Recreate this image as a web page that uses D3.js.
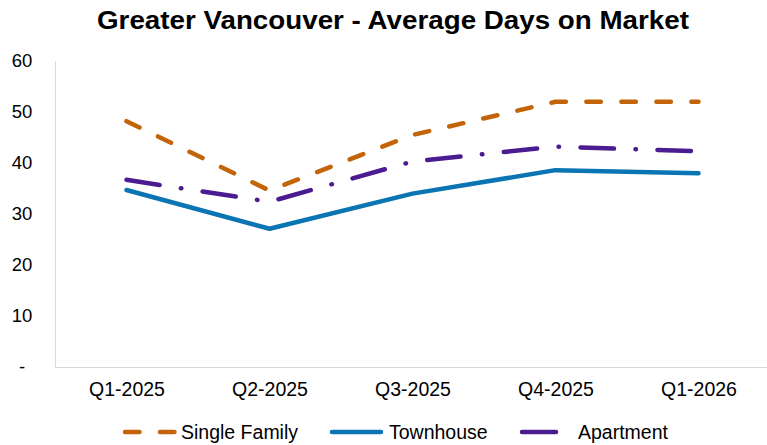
<!DOCTYPE html>
<head>
<meta charset="utf-8">
<script src="https://d3js.org/d3.v7.min.js"></script>
<style>
    body { margin: 0; background: #fff; }
    text { font-family: "Liberation Sans", Arial, sans-serif; fill: #000; }
    .title { font-size: 26px; font-weight: bold; }
    .yAxis .tick text { font-size: 18.5px; }
    .xAxis .tick text { font-size: 19.5px; }
    .legend text { font-size: 19.5px; }
</style>
</head>
<body>
<svg width="767" height="445"></svg>
<script>
    // data
    var quarters = ["Q1-2025", "Q2-2025", "Q3-2025", "Q4-2025", "Q1-2026"];
    var singleFamily = [48.2, 34.6, 45.5, 52, 52];
    var townhouse = [34.7, 27.1, 34, 38.6, 38];
    var apartment = [36.7, 32.4, 40.3, 43.2, 42.3];
    var yTicks = [0, 10, 20, 30, 40, 50, 60];

    var series = [
        {name: "Single Family", values: singleFamily, color: "#C26407", dash: "14.5,20.5"},
        {name: "Townhouse", values: townhouse, color: "#0A75B2", dash: null},
        {name: "Apartment", values: apartment, color: "#4B1C91", dash: "33.5,21.5,0.5,21.5"}
    ];

    var svg = d3.select("svg");
    var margin = {left: 55, right: -3, top: 61, bottom: 78};
    var width = 767 - margin.left - margin.right,
        height = 445 - margin.top - margin.bottom;

    var x = d3.scalePoint().domain(quarters).range([0, width]).padding(0.5);
    var y = d3.scaleLinear().domain([0, 60]).range([height, 0]);

    svg.append("text")
        .attr("class", "title")
        .attr("x", 393).attr("y", 29)
        .attr("text-anchor", "middle")
        .attr("textLength", 592)
        .attr("lengthAdjust", "spacingAndGlyphs")
        .text("Greater Vancouver - Average Days on Market");

    var g = svg.append("g").attr("transform", "translate(" + margin.left + "," + margin.top + ")");

    // axes
    var yAxis = g.append("g")
        .attr("class", "yAxis")
        .call(d3.axisLeft(y).tickValues(yTicks).tickSize(0).tickPadding(33)
            .tickFormat(function(d) { return d === 0 ? "-" : d; }));
    yAxis.select(".domain").attr("stroke", "#d9d9d9");
    yAxis.selectAll(".tick text").attr("text-anchor", "middle");

    var xAxis = g.append("g")
        .attr("class", "xAxis")
        .attr("transform", "translate(0," + height + ")")
        .call(d3.axisBottom(x).tickSize(0).tickPadding(15));
    xAxis.select(".domain").attr("stroke", "#d9d9d9");

    // lines
    var line = d3.line()
        .x(function(d, i) { return x(quarters[i]); })
        .y(function(d) { return y(d); });

    g.selectAll(".series")
        .data(series)
        .enter().append("path")
        .attr("class", "series")
        .attr("fill", "none")
        .attr("stroke", function(d) { return d.color; })
        .attr("stroke-width", 4.5)
        .attr("stroke-linecap", "round")
        .attr("stroke-linejoin", "round")
        .attr("stroke-dasharray", function(d) { return d.dash; })
        .attr("d", function(d) { return line(d.values); });

    // legend: sample line start/end and text start
    var legendPos = [{x1: 125, x2: 175, tx: 181}, {x1: 332, x2: 381, tx: 389}, {x1: 522, x2: 556, tx: 578}];
    var legend = svg.append("g").attr("class", "legend");
    var item = legend.selectAll("g")
        .data(series)
        .enter().append("g");

    item.append("line")
        .attr("x1", function(d, i) { return legendPos[i].x1; })
        .attr("x2", function(d, i) { return legendPos[i].x2; })
        .attr("y1", 432).attr("y2", 432)
        .attr("stroke", function(d) { return d.color; })
        .attr("stroke-width", 4.5)
        .attr("stroke-linecap", "round")
        .attr("stroke-dasharray", function(d, i) { return i === 0 ? "14.5,20.5" : null; });

    item.append("text")
        .attr("x", function(d, i) { return legendPos[i].tx; })
        .attr("y", 432)
        .attr("dy", "0.35em")
        .text(function(d) { return d.name; });
</script>
</body>
